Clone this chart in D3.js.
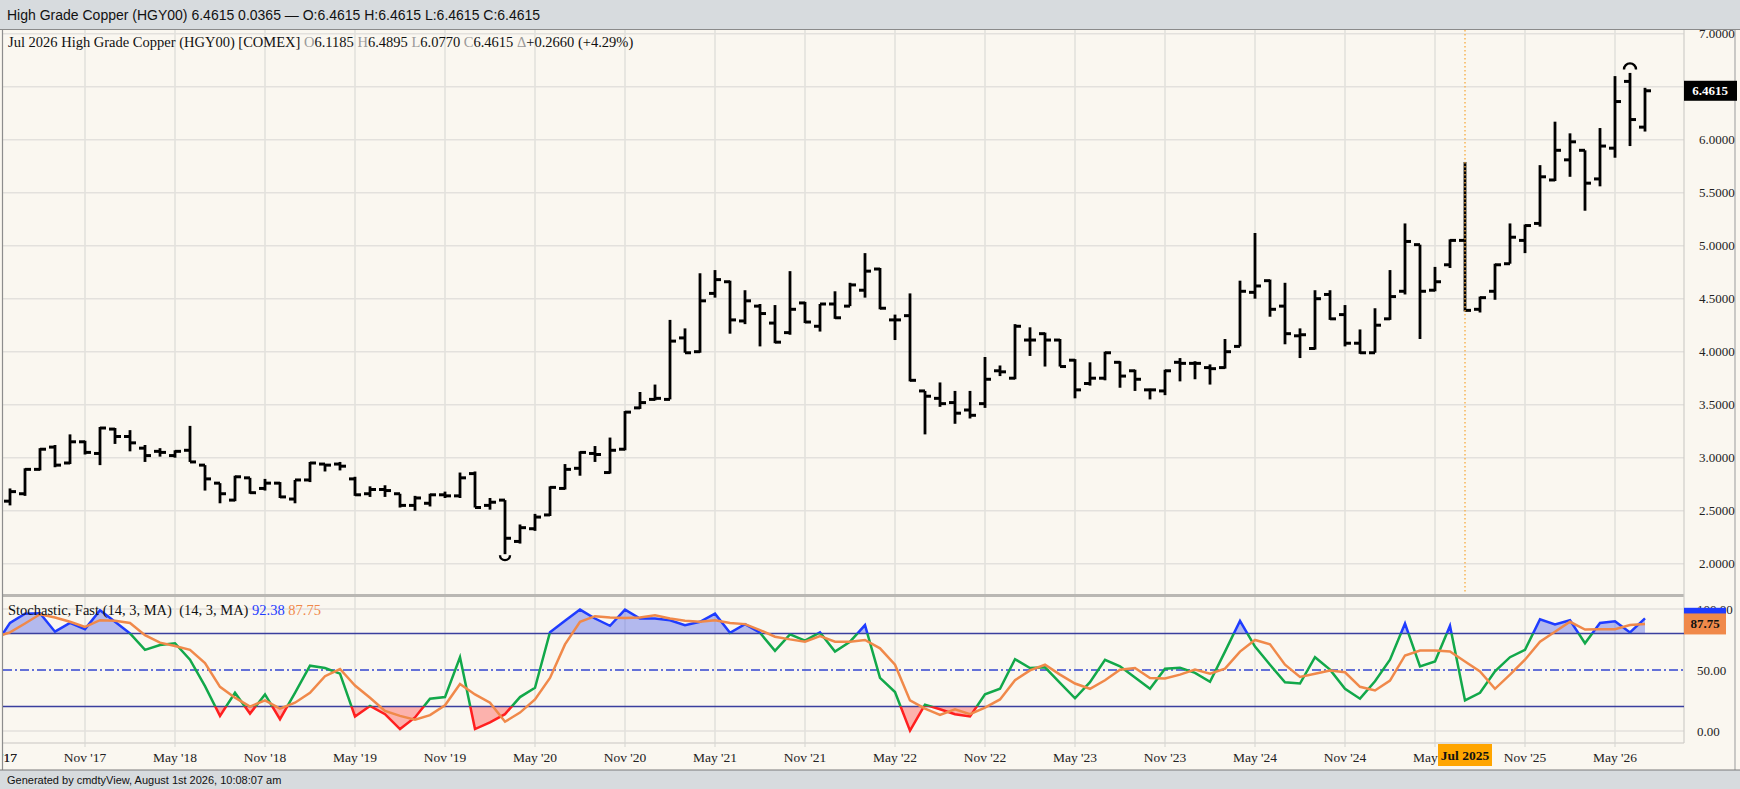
<!DOCTYPE html>
<html>
<head>
<meta charset="utf-8">
<script src="https://cdn.jsdelivr.net/npm/d3@7"></script>
<style>
  html, body { margin: 0; padding: 0; background: #faf7f0; overflow: hidden; }
  svg { display: block; }
</style>
</head>
<body>
<svg id="chart" width="1740" height="789"></svg>
<script>
// monthly bars, May 2017 .. Jul 2026 (first one sits just off the left edge)
const months = [
  "2017-05","2017-06","2017-07","2017-08","2017-09","2017-10","2017-11","2017-12",
  "2018-01","2018-02","2018-03","2018-04","2018-05","2018-06","2018-07","2018-08","2018-09","2018-10","2018-11","2018-12",
  "2019-01","2019-02","2019-03","2019-04","2019-05","2019-06","2019-07","2019-08","2019-09","2019-10","2019-11","2019-12",
  "2020-01","2020-02","2020-03","2020-04","2020-05","2020-06","2020-07","2020-08","2020-09","2020-10","2020-11","2020-12",
  "2021-01","2021-02","2021-03","2021-04","2021-05","2021-06","2021-07","2021-08","2021-09","2021-10","2021-11","2021-12",
  "2022-01","2022-02","2022-03","2022-04","2022-05","2022-06","2022-07","2022-08","2022-09","2022-10","2022-11","2022-12",
  "2023-01","2023-02","2023-03","2023-04","2023-05","2023-06","2023-07","2023-08","2023-09","2023-10","2023-11","2023-12",
  "2024-01","2024-02","2024-03","2024-04","2024-05","2024-06","2024-07","2024-08","2024-09","2024-10","2024-11","2024-12",
  "2025-01","2025-02","2025-03","2025-04","2025-05","2025-06","2025-07","2025-08","2025-09","2025-10","2025-11","2025-12",
  "2026-01","2026-02","2026-03","2026-04","2026-05","2026-06","2026-07"
]

const opens = [
  2.62, 2.59, 2.66, 2.89, 3.10, 2.95, 3.15, 3.04,
  3.27, 3.20, 3.09, 3.06, 3.02, 3.07, 2.93, 2.76, 2.60, 2.81, 2.71, 2.76,
  2.61, 2.79, 2.94, 2.94, 2.80, 2.66, 2.70, 2.66, 2.55, 2.57, 2.65, 2.64,
  2.85, 2.55, 2.60, 2.21, 2.33, 2.46, 2.71, 2.90, 3.04, 2.86, 3.08, 3.47,
  3.55, 3.55, 4.13, 4.00, 4.55, 4.66, 4.29, 4.43, 4.27, 4.18, 4.46, 4.24,
  4.45, 4.43, 4.58, 4.78, 4.30, 4.34, 3.63, 3.56, 3.52, 3.45, 3.51, 3.82,
  3.75, 4.11, 4.17, 4.11, 3.92, 3.70, 3.75, 3.90, 3.82, 3.64, 3.63, 3.90,
  3.89, 3.85, 3.85, 4.05, 4.56, 4.67, 4.43, 4.15, 4.03, 4.54, 4.35, 4.08,
  3.99, 4.31, 4.57, 5.01, 4.58, 4.82, 5.05, 4.40, 4.57, 4.83, 5.05, 5.21,
  5.62, 5.81, 5.90, 5.63, 5.92, 6.55, 6.1185
]
const highs = [
  2.63, 2.71, 2.90, 3.09, 3.12, 3.22, 3.16, 3.29,
  3.28, 3.26, 3.12, 3.09, 3.07, 3.30, 2.93, 2.76, 2.83, 2.81, 2.80, 2.77,
  2.79, 2.96, 2.94, 2.96, 2.82, 2.73, 2.74, 2.66, 2.64, 2.66, 2.68, 2.86,
  2.87, 2.62, 2.60, 2.37, 2.47, 2.73, 2.94, 3.06, 3.11, 3.19, 3.44, 3.62,
  3.69, 4.30, 4.22, 4.74, 4.77, 4.67, 4.58, 4.45, 4.44, 4.76, 4.47, 4.45,
  4.57, 4.65, 4.93, 4.79, 4.35, 4.55, 3.63, 3.71, 3.63, 3.63, 3.95, 3.87,
  4.26, 4.23, 4.18, 4.12, 3.93, 3.90, 4.00, 3.91, 3.83, 3.65, 3.83, 3.94,
  3.91, 3.88, 4.12, 4.67, 5.12, 4.68, 4.65, 4.22, 4.58, 4.58, 4.44, 4.21,
  4.41, 4.77, 5.21, 5.01, 4.80, 5.06, 5.79, 4.52, 4.83, 5.21, 5.20, 5.76,
  6.17, 6.06, 5.90, 6.11, 6.60, 6.63, 6.4895
]
const lows = [
  2.50, 2.55, 2.64, 2.88, 2.91, 2.94, 3.03, 2.93,
  3.13, 3.06, 2.96, 3.01, 3.00, 2.96, 2.69, 2.57, 2.59, 2.66, 2.69, 2.62,
  2.57, 2.77, 2.87, 2.88, 2.64, 2.63, 2.63, 2.53, 2.50, 2.54, 2.62, 2.62,
  2.53, 2.51, 2.09, 2.19, 2.31, 2.45, 2.70, 2.83, 2.96, 2.85, 3.07, 3.46,
  3.54, 3.55, 3.99, 3.99, 4.51, 4.17, 4.26, 4.05, 4.08, 4.16, 4.27, 4.19,
  4.31, 4.43, 4.51, 4.40, 4.11, 3.72, 3.22, 3.48, 3.32, 3.37, 3.47, 3.77,
  3.74, 3.96, 3.86, 3.86, 3.56, 3.68, 3.73, 3.66, 3.63, 3.55, 3.59, 3.72,
  3.74, 3.69, 3.84, 4.05, 4.50, 4.33, 4.07, 3.94, 4.02, 4.30, 4.05, 3.98,
  3.99, 4.30, 4.54, 4.12, 4.57, 4.79, 4.38, 4.37, 4.49, 4.83, 4.93, 5.18,
  5.61, 5.65, 5.33, 5.56, 5.83, 5.94, 6.0770
]
const closes = [
  2.57, 2.68, 2.89, 3.08, 2.93, 3.15, 3.05, 3.28,
  3.20, 3.14, 3.02, 3.05, 3.06, 2.96, 2.80, 2.66, 2.82, 2.67, 2.76, 2.63,
  2.79, 2.95, 2.93, 2.92, 2.65, 2.70, 2.69, 2.55, 2.62, 2.65, 2.64, 2.81,
  2.53, 2.58, 2.24, 2.34, 2.44, 2.72, 2.89, 3.05, 3.03, 3.07, 3.43, 3.52,
  3.56, 4.10, 3.99, 4.48, 4.68, 4.30, 4.48, 4.36, 4.09, 4.40, 4.28, 4.45,
  4.32, 4.63, 4.76, 4.41, 4.30, 3.73, 3.58, 3.51, 3.42, 3.40, 3.74, 3.81,
  4.24, 4.11, 4.11, 3.86, 3.64, 3.75, 3.99, 3.77, 3.74, 3.64, 3.82, 3.89,
  3.89, 3.84, 4.00, 4.57, 4.62, 4.40, 4.17, 4.16, 4.50, 4.31, 4.08, 3.99,
  4.25, 4.52, 5.04, 4.57, 4.66, 5.05, 4.39, 4.51, 4.82, 5.08, 5.19, 5.65,
  5.90, 5.98, 5.59, 5.94, 6.36, 6.19, 6.4615
]

// Stochastic fast (14,3,MA): %K and its 3 period average
const stochK = [
  70.0, 88.6, 96.2, 96.5, 81.4, 88.6, 83.5, 98.9,
  89.5, 80.0, 66.5, 70.5, 71.9, 58.4, 36.8, 12.4, 31.3, 14.3, 30.0, 9.7,
  31.3, 53.5, 51.6, 47.0, 11.9, 20.5, 13.8, 1.6, 11.1, 26.5, 27.8, 60.5,
  1.6, 7.0, 13.8, 27.8, 35.4, 81.0, 90.3, 99.5, 92.2, 86.2, 99.5, 92.2,
  92.2, 90.8, 86.8, 89.5, 96.2, 80.5, 87.6, 80.5, 65.7, 79.2, 74.1, 80.8,
  65.1, 73.2, 86.8, 43.5, 31.9, 0.3, 21.6, 17.8, 13.8, 11.9, 30.0, 34.6,
  58.9, 51.6, 52.2, 39.5, 26.8, 40.0, 58.4, 53.0, 43.8, 34.6, 51.1, 51.9,
  47.6, 40.3, 65.1, 90.3, 69.2, 54.3, 40.0, 38.9, 60.5, 50.3, 34.6, 26.5,
  40.8, 58.4, 88.1, 53.0, 57.0, 86.2, 25.1, 31.3, 48.9, 60.5, 66.5, 91.6,
  87.3, 90.8, 71.9, 88.6, 90.0, 80.8, 92.38
]
const stochD = [
  77.0, 80.8, 88.1, 95.7, 93.0, 89.5, 85.4, 90.8,
  90.3, 88.6, 78.6, 72.4, 69.7, 66.5, 55.7, 36.2, 27.3, 20.0, 25.1, 18.4,
  23.2, 31.3, 44.9, 50.8, 37.3, 27.3, 16.5, 12.4, 9.2, 13.0, 21.1, 38.6,
  30.0, 23.2, 7.6, 15.1, 25.9, 43.5, 71.0, 89.5, 94.1, 93.0, 92.7, 93.0,
  94.9, 92.2, 90.3, 89.5, 90.8, 88.6, 87.6, 82.7, 77.3, 75.1, 73.2, 77.8,
  73.2, 73.2, 74.6, 67.8, 54.3, 25.1, 18.4, 13.2, 17.8, 13.8, 19.2, 25.9,
  41.6, 49.7, 54.3, 46.2, 38.9, 34.6, 41.6, 50.3, 51.6, 43.5, 43.0, 46.2,
  50.3, 47.0, 51.1, 65.1, 74.6, 71.1, 54.3, 44.3, 47.0, 49.5, 48.1, 36.2,
  33.2, 41.3, 61.9, 65.9, 65.9, 65.1, 57.0, 48.9, 34.6, 46.2, 58.4, 73.2,
  81.4, 89.5, 83.2, 83.5, 83.5, 86.8, 87.75
]

const priceTicks = [2.0, 2.5, 3.0, 3.5, 4.0, 4.5, 5.0, 5.5, 6.0, 6.5, 7.0]
const stochTicks = [0, 50, 100]
const stochUpper = 80, stochMid = 50, stochLower = 20
const tickMonths = [5, 11]   // May and Nov on the time axis
const markerMonth = "2025-07"
const markerLabel = "Jul 2025"

const headerText = "High Grade Copper (HGY00) 6.4615 0.0365 \u2014 O:6.4615 H:6.4615 L:6.4615 C:6.4615"
const footerText = "Generated by cmdtyView, August 1st 2026, 10:08:07 am"
const priceLegend = [
  ["Jul 2026 High Grade Copper (HGY00) [COMEX] ", "#111"],
  ["O", "#9a9a9a"], ["6.1185 ", "#111"],
  ["H", "#9a9a9a"], ["6.4895 ", "#111"],
  ["L", "#9a9a9a"], ["6.0770 ", "#111"],
  ["C", "#9a9a9a"], ["6.4615 ", "#111"],
  ["\u0394", "#9a9a9a"], ["+0.2660 (+4.29%)", "#111"]
]
const stochLegend = [
  ["Stochastic, Fast (14, 3, MA)\u00a0\u00a0(14, 3, MA) ", "#111"],
  ["92.38", "#1f3cff"], [" 87.75", "#f0894a"]
]

// ---------------------------------------------------------------
const W = 1740, H = 789
const left = 3, right = 1684, axisRight = 1735
const priceTop = 30, priceBottom = 595
const stochTop = 597, stochBottom = 743
const serif = "'Liberation Serif', 'DejaVu Serif', serif"
const sans = "'Liberation Sans', Arial, sans-serif"

const colBlue = "#1f3cff", colGreen = "#12a84a", colRed = "#ff1f1f", colOrange = "#f0894a"
const gridCol = "#e3e1dd"

const parseMonth = d3.timeParse("%Y-%m")
const fmtMonth = d3.timeFormat("%b '%y")

const svg = d3.select("#chart")

const x = d3.scalePoint()
  .domain(months)
  .range([-5, 1645])

const yP = d3.scaleLinear()
  .domain([2, 7])
  .range([563.7, 33.7])

const yS = d3.scaleLinear()
  .domain([0, 100])
  .range([731, 609])

svg.append("rect").attr("width", W).attr("height", H).attr("fill", "#faf7f0")

const defs = svg.append("defs")
function clip(id, x0, y0, w, h) {
  defs.append("clipPath").attr("id", id)
    .append("rect").attr("x", x0).attr("y", y0).attr("width", w).attr("height", h)
}
clip("priceClip", left, priceTop, right - left, priceBottom - priceTop)
clip("stochClip", left, stochTop, right - left, stochBottom - stochTop)
clip("kHigh", left, stochTop, right - left, yS(stochUpper) - stochTop)
clip("kMid", left, yS(stochUpper), right - left, yS(stochLower) - yS(stochUpper))
clip("kLow", left, yS(stochLower), right - left, stochBottom - yS(stochLower))
clip("labelClip", left, stochBottom, right - left, 30)

// grid
const tickList = months.filter(m => tickMonths.includes(parseMonth(m).getMonth() + 1))
const grid = svg.append("g").attr("stroke", gridCol).attr("stroke-width", 1.6)

grid.selectAll(".vp").data(tickList).enter().append("line")
  .attr("x1", d => x(d)).attr("x2", d => x(d))
  .attr("y1", priceTop).attr("y2", priceBottom)
grid.selectAll(".vs").data(tickList).enter().append("line")
  .attr("x1", d => x(d)).attr("x2", d => x(d))
  .attr("y1", stochTop).attr("y2", stochBottom + 4)
grid.selectAll(".hp").data(priceTicks).enter().append("line")
  .attr("x1", left).attr("x2", right)
  .attr("y1", d => yP(d)).attr("y2", d => yP(d))
grid.selectAll(".hs").data([0, 100]).enter().append("line")
  .attr("x1", left).attr("x2", right)
  .attr("y1", d => yS(d)).attr("y2", d => yS(d))

// panel frames
svg.append("line").attr("x1", left).attr("x2", right).attr("y1", 595.5).attr("y2", 595.5)
  .attr("stroke", "#b9b7b3").attr("stroke-width", 3)
svg.append("line").attr("x1", left).attr("x2", right).attr("y1", stochBottom).attr("y2", stochBottom)
  .attr("stroke", "#d8d6d2").attr("stroke-width", 1.5)
svg.append("line").attr("x1", right).attr("x2", right).attr("y1", priceTop).attr("y2", stochBottom)
  .attr("stroke", "#cfcdc9").attr("stroke-width", 1.2)
svg.append("line").attr("x1", left - 0.5).attr("x2", left - 0.5).attr("y1", priceTop).attr("y2", 770)
  .attr("stroke", "#8d8d8d").attr("stroke-width", 1.2)
svg.append("line").attr("x1", axisRight).attr("x2", axisRight).attr("y1", priceTop).attr("y2", 770)
  .attr("stroke", "#a9a9a9").attr("stroke-width", 1.2)

// OHLC bars
const bars = months.map((m, i) => ({ m: m, o: opens[i], h: highs[i], l: lows[i], c: closes[i] }))
const pg = svg.append("g").attr("clip-path", "url(#priceClip)")
  .attr("stroke", "#000").attr("stroke-linecap", "butt")

const bar = pg.selectAll("g.bar").data(bars).enter().append("g")
bar.append("line")
  .attr("x1", d => x(d.m)).attr("x2", d => x(d.m))
  .attr("y1", d => yP(d.h)).attr("y2", d => yP(d.l))
  .attr("stroke-width", 2.8)
bar.append("line")
  .attr("x1", d => x(d.m) - 6).attr("x2", d => x(d.m))
  .attr("y1", d => yP(d.o)).attr("y2", d => yP(d.o))
  .attr("stroke-width", 3)
bar.append("line")
  .attr("x1", d => x(d.m)).attr("x2", d => x(d.m) + 6)
  .attr("y1", d => yP(d.c)).attr("y2", d => yP(d.c))
  .attr("stroke-width", 3)

// swing markers on the lowest low and highest high
const lowIdx = d3.minIndex(lows), highIdx = d3.maxIndex(highs)
const lx = x(months[lowIdx]), ly = yP(lows[lowIdx]) + 1
const hx = x(months[highIdx]), hy = yP(highs[highIdx]) - 3.5
pg.append("path")
  .attr("d", `M${lx - 5},${ly} A5,5 0 0 0 ${lx + 5},${ly}`)
  .attr("fill", "none").attr("stroke-width", 2.4)
pg.append("path")
  .attr("d", `M${hx - 6},${hy} A6,6 0 0 1 ${hx + 6},${hy}`)
  .attr("fill", "none").attr("stroke-width", 2.4)

// highlighted month
svg.append("line")
  .attr("x1", x(markerMonth)).attr("x2", x(markerMonth))
  .attr("y1", priceTop).attr("y2", priceBottom - 3)
  .attr("stroke", "#f7b04a").attr("stroke-width", 1.4)
  .attr("stroke-dasharray", "1.4,2.6")

// stochastic panel
const sg = svg.append("g").attr("clip-path", "url(#stochClip)")
const idx = d3.range(months.length)

const areaUp = d3.area().x(i => x(months[i])).y0(yS(stochUpper)).y1(i => yS(stochK[i]))
const areaDn = d3.area().x(i => x(months[i])).y0(yS(stochLower)).y1(i => yS(stochK[i]))
sg.append("path").datum(idx).attr("d", areaUp)
  .attr("clip-path", "url(#kHigh)").attr("fill", "rgba(80,100,235,0.42)")
sg.append("path").datum(idx).attr("d", areaDn)
  .attr("clip-path", "url(#kLow)").attr("fill", "rgba(255,45,45,0.34)")

sg.selectAll(".lvl").data([stochUpper, stochLower]).enter().append("line")
  .attr("x1", left).attr("x2", right)
  .attr("y1", d => yS(d)).attr("y2", d => yS(d))
  .attr("stroke", "#3a3f9e").attr("stroke-width", 1.5)
sg.append("line")
  .attr("x1", left).attr("x2", right)
  .attr("y1", yS(stochMid)).attr("y2", yS(stochMid))
  .attr("stroke", "#3346cf").attr("stroke-width", 1.4)
  .attr("stroke-dasharray", "9,3,2,3")

const kLine = d3.line().x(i => x(months[i])).y(i => yS(stochK[i]))
const dLine = d3.line().x(i => x(months[i])).y(i => yS(stochD[i]))
;[["kHigh", colBlue], ["kMid", colGreen], ["kLow", colRed]].forEach(p => {
  sg.append("g").attr("clip-path", `url(#${p[0]})`)
    .append("path").datum(idx).attr("d", kLine)
    .attr("fill", "none").attr("stroke", p[1]).attr("stroke-width", 2.5)
    .attr("stroke-linejoin", "miter")
})
sg.append("path").datum(idx).attr("d", dLine)
  .attr("fill", "none").attr("stroke", colOrange).attr("stroke-width", 2.5)

// legends
function legend(parts, y) {
  const t = svg.append("text").attr("x", 8).attr("y", y)
    .attr("font-family", serif).attr("font-size", 14.5)
  parts.forEach(p => t.append("tspan").attr("fill", p[1]).text(p[0]))
}
legend(priceLegend, 47)
legend(stochLegend, 615)

// right axes
const ax = svg.append("g").attr("font-family", serif).attr("font-size", 13).attr("fill", "#222")
ax.selectAll(".pt").data(priceTicks).enter().append("text")
  .attr("x", 1699).attr("y", d => yP(d)).attr("dy", "0.35em")
  .text(d => d3.format(".4f")(d))
ax.selectAll(".st").data(stochTicks).enter().append("text")
  .attr("x", 1697).attr("y", d => yS(d)).attr("dy", "0.35em")
  .text(d => d3.format(".2f")(d))

// last value boxes
const lastClose = closes[closes.length - 1]
svg.append("rect").attr("x", right).attr("y", yP(lastClose) - 10)
  .attr("width", 53).attr("height", 20).attr("fill", "#000")
svg.append("text").attr("x", right + 26).attr("y", yP(lastClose)).attr("dy", "0.35em")
  .attr("text-anchor", "middle").attr("font-family", serif).attr("font-size", 13)
  .attr("font-weight", "bold").attr("fill", "#fff").text(d3.format(".4f")(lastClose))

const lastK = stochK[stochK.length - 1], lastD = stochD[stochD.length - 1]
svg.append("rect").attr("x", right).attr("y", yS(lastK) - 10.5)
  .attr("width", 42).attr("height", 21).attr("fill", colBlue)
svg.append("text").attr("x", right + 21).attr("y", yS(lastK)).attr("dy", "0.35em")
  .attr("text-anchor", "middle").attr("font-family", serif).attr("font-size", 13)
  .attr("font-weight", "bold").attr("fill", "#fff").text(d3.format(".2f")(lastK))
svg.append("rect").attr("x", right).attr("y", yS(lastD) - 10.5)
  .attr("width", 42).attr("height", 21).attr("fill", colOrange)
svg.append("text").attr("x", right + 21).attr("y", yS(lastD)).attr("dy", "0.35em")
  .attr("text-anchor", "middle").attr("font-family", serif).attr("font-size", 13)
  .attr("font-weight", "bold").attr("fill", "#111").text(d3.format(".2f")(lastD))

// time axis
svg.append("g").attr("clip-path", "url(#labelClip)")
  .selectAll("text").data(tickList.concat(["2017-05"])).enter().append("text")
  .attr("x", d => x(d)).attr("y", 762)
  .attr("text-anchor", "middle").attr("font-family", serif).attr("font-size", 13.5)
  .attr("fill", "#222")
  .text(d => fmtMonth(parseMonth(d)))

const mx = x(markerMonth)
svg.append("rect").attr("x", mx - 27).attr("y", 744).attr("width", 54).attr("height", 22)
  .attr("fill", "#ffa500")
svg.append("text").attr("x", mx).attr("y", 760)
  .attr("text-anchor", "middle").attr("font-family", serif).attr("font-size", 13.5)
  .attr("font-weight", "bold").attr("fill", "#111").text(markerLabel)

// header and footer bars
svg.append("rect").attr("width", W).attr("height", priceTop).attr("fill", "#d7dbde")
svg.append("line").attr("x1", 0).attr("x2", W).attr("y1", priceTop - 0.5).attr("y2", priceTop - 0.5)
  .attr("stroke", "#8a8a8a").attr("stroke-width", 1.2)
svg.append("text").attr("x", 7).attr("y", 20)
  .attr("font-family", sans).attr("font-size", 14).attr("fill", "#111").text(headerText)

svg.append("rect").attr("y", 770).attr("width", W).attr("height", H - 770).attr("fill", "#d7dbde")
svg.append("line").attr("x1", 0).attr("x2", W).attr("y1", 770).attr("y2", 770)
  .attr("stroke", "#7a7a7a").attr("stroke-width", 1.2)
svg.append("text").attr("x", 7).attr("y", 784)
  .attr("font-family", sans).attr("font-size", 11).attr("fill", "#111").text(footerText)
</script>
</body>
</html>
